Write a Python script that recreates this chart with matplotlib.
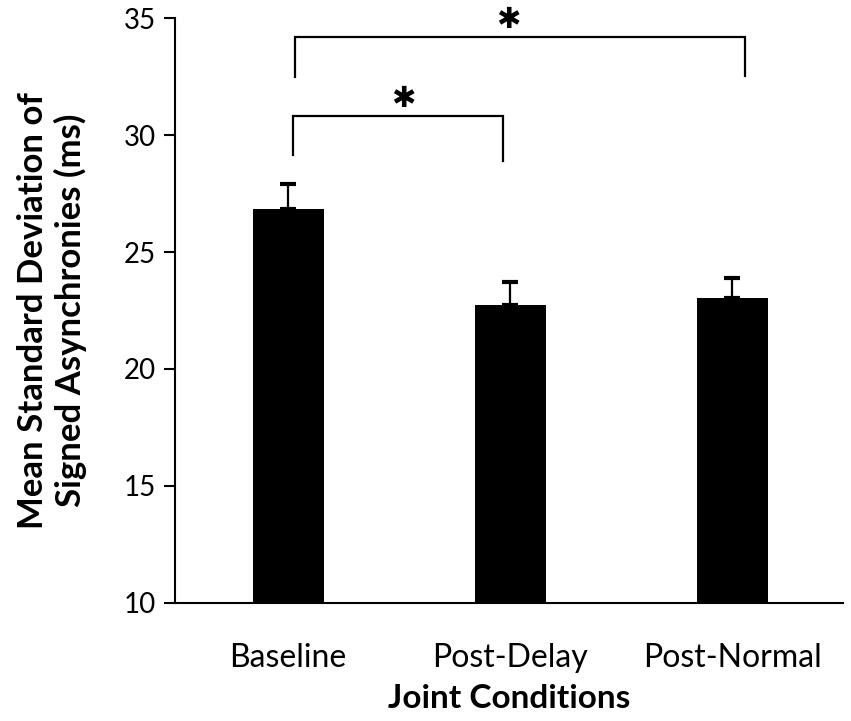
import numpy as np
import matplotlib.pyplot as plt

conditions = ['Baseline', 'Post-Delay', 'Post-Normal']
mean_sd = [26.85, 22.75, 23.03]
sem = [1.05, 0.95, 0.86]

# significance brackets: (left, right, top, left leg bottom, right leg bottom)
brackets = [(0.02, 0.97, 30.82, 29.13, 28.89),
            (0.03, 2.06, 34.2, 32.48, 32.53)]
star_pos = [(0.52, 31.55), (0.99, 34.9)]

plt.rcParams['font.family'] = ['Lato', 'DejaVu Sans']

fig = plt.figure(figsize=(8.51, 7.21), dpi=100)
ax = fig.add_axes([0.2056, 0.1637, 0.785, 0.8113])

x = np.arange(len(conditions))
ax.bar(x, mean_sd, width=0.32, color='black', zorder=2)
ax.errorbar(x, mean_sd, yerr=[np.zeros(len(sem)), sem], fmt='none',
            ecolor='black', elinewidth=1.6, capsize=6, capthick=3, zorder=1)

for l, r, top, lb, rb in brackets:
    ax.plot([l, l, r, r], [lb, top, top, rb], color='black', lw=1.6,
            clip_on=False, solid_joinstyle='miter')
for sx, sy in star_pos:
    ax.text(sx, sy, '\u2731', ha='center', va='center', fontsize=21,
            family='DejaVu Sans', clip_on=False)

ax.set_xlim(-0.51, 2.5)
ax.set_ylim(10, 35)
ax.set_yticks([10, 15, 20, 25, 30, 35])
ax.set_xticks(x, conditions)
ax.tick_params(axis='y', labelsize=20, length=8, width=1.5, direction='out', pad=6)
ax.tick_params(axis='x', labelsize=23, length=0, pad=29)
for s in ['top', 'right']:
    ax.spines[s].set_visible(False)
for s in ['left', 'bottom']:
    ax.spines[s].set_linewidth(1.5)

ax.set_ylabel('Mean Standard Deviation of\nSigned Asynchronies (ms)',
              fontsize=25, fontweight='bold', labelpad=26, linespacing=1.2)
ax.set_xlabel('Joint Conditions', fontsize=24, fontweight='bold', labelpad=8)

fig.savefig('out.png', dpi=100)
